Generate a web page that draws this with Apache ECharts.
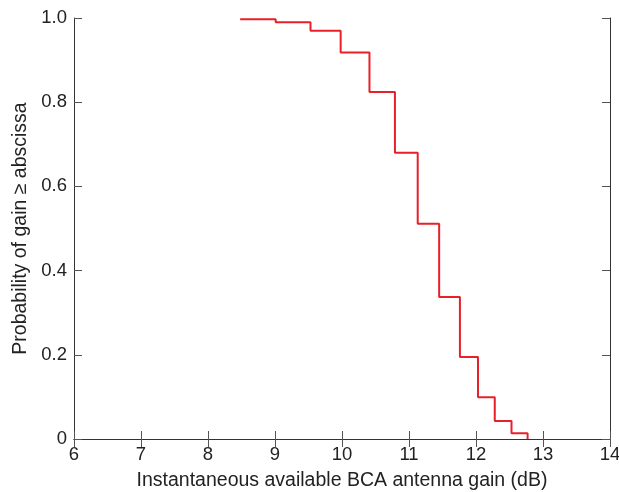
<!DOCTYPE html>
<html>
<head>
<meta charset="utf-8">
<script src="https://cdn.jsdelivr.net/npm/echarts@6/dist/echarts.min.js"></script>
<style>
  html, body { margin: 0; padding: 0; background: #fff; overflow: hidden; }
  #chart { width: 619px; height: 492px; }
</style>
</head>
<body>
<div id="chart"></div>
<script>
// Complementary distribution of the instantaneous antenna gain (step curve)
const gainDb = [8.48, 9.01, 9.53, 9.98, 10.41, 10.79, 11.13, 11.45, 11.76, 12.03, 12.28, 12.53, 12.77];
const probability = [0.997, 0.990, 0.970, 0.918, 0.824, 0.680, 0.511, 0.337, 0.195, 0.099, 0.043, 0.0135, 0];

const xTicks = { min: 6, max: 14, interval: 1 };
const yTicks = { min: 0, max: 1, interval: 0.2 };

const FONT = 'Liberation Sans, Arial, sans-serif';
const TEXT = '#222';
const LINE = '#333';

const points = gainDb.map((g, i) => [g, probability[i]]);

const chart = echarts.init(document.getElementById('chart'), null, { renderer: 'canvas' });

const baseX = {
  type: 'value',
  min: xTicks.min, max: xTicks.max, interval: xTicks.interval,
  splitLine: { show: false },
  axisLine: { show: true, lineStyle: { color: LINE, width: 1 } },
  axisTick: { show: true, inside: true, length: 8, lineStyle: { color: '#555' } },
};
const baseY = {
  type: 'value',
  min: yTicks.min, max: yTicks.max, interval: yTicks.interval,
  splitLine: { show: false },
  axisLine: { show: true, lineStyle: { color: LINE, width: 1 } },
  axisTick: { show: true, inside: true, length: 8, lineStyle: { color: '#555' } },
};

chart.setOption({
  animation: false,
  backgroundColor: '#fff',
  grid: {
    left: 74, right: 9, top: 18, bottom: 53,
    containLabel: false,
    outerBoundsMode: 'none',
  },
  xAxis: [
    Object.assign({}, baseX, {
      position: 'bottom',
      axisLabel: { color: TEXT, fontSize: 18.5, fontFamily: FONT, margin: 6 },
      name: 'Instantaneous available BCA antenna gain (dB)',
      nameLocation: 'middle',
      nameGap: 32,
      nameTextStyle: { color: TEXT, fontSize: 19.5, fontFamily: FONT },
    }),
    Object.assign({}, baseX, {
      position: 'top',
      axisLabel: { show: false },
    }),
  ],
  yAxis: [
    Object.assign({}, baseY, {
      position: 'left',
      axisLabel: {
        color: TEXT, fontSize: 18.5, fontFamily: FONT, margin: 7,
        formatter: v => (v === 0 ? '0' : v.toFixed(1)),
      },
      name: 'Probability of gain \u2265 abscissa',
      nameLocation: 'middle',
      nameGap: 40,
      nameTextStyle: { color: TEXT, fontSize: 19.5, fontFamily: FONT },
    }),
    Object.assign({}, baseY, {
      position: 'right',
      axisLabel: { show: false },
    }),
  ],
  series: [{
    type: 'line',
    xAxisIndex: 0,
    yAxisIndex: 0,
    step: 'end',
    data: points,
    showSymbol: false,
    lineStyle: { color: '#e8202a', width: 2 },
  }],
});
</script>
</body>
</html>
